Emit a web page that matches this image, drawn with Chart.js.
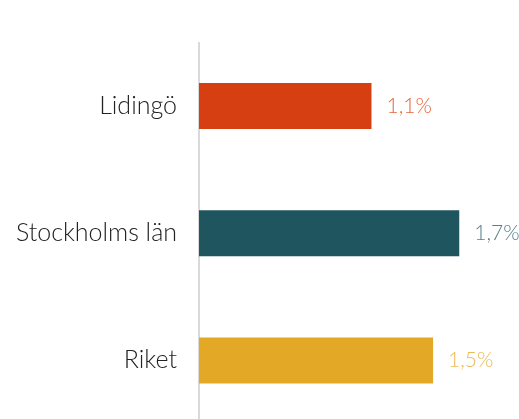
<!DOCTYPE html>
<html>
<head>
<meta charset="utf-8">
<script src="https://cdn.jsdelivr.net/npm/chart.js@4"></script>
<style>
  html, body { margin: 0; padding: 0; background: #fff; overflow: hidden; }
  canvas { display: block; }
</style>
</head>
<body>
<!-- taller than the window: the axis keeps label padding at the bottom, which falls off-screen -->
<canvas id="chart" width="519" height="461"></canvas>
<script>
// Data
const categories = ['Lidingö', 'Stockholms län', 'Riket'];
const values = [1.12, 1.69, 1.52];
const barColors = ['#D63F11', '#1F555E', '#E3A826'];
const labelColors = ['#E2673F', '#55808A', '#ECBA58'];

// draws the value next to each bar
const valueLabels = {
  id: 'valueLabels',
  afterDatasetsDraw(chart) {
    const ctx = chart.ctx;
    const meta = chart.getDatasetMeta(0);
    ctx.save();
    ctx.font = '300 21px Lato';
    ctx.textBaseline = 'middle';
    ctx.textAlign = 'left';
    meta.data.forEach(function(bar, i) {
      ctx.fillStyle = labelColors[i];
      const txt = values[i].toFixed(1).replace('.', ',') + '%';
      ctx.fillText(txt, bar.x + 15, bar.y);
    });
    ctx.restore();
  }
};

new Chart(document.getElementById('chart'), {
  type: 'bar',
  data: {
    labels: categories,
    datasets: [{
      data: values,
      backgroundColor: barColors,
      barPercentage: 0.362,
      categoryPercentage: 1
    }]
  },
  options: {
    indexAxis: 'y',
    responsive: false,
    animation: false,
    layout: { padding: { top: 42.5, right: 12, bottom: 0, left: 0 } },
    plugins: {
      legend: { display: false },
      tooltip: { enabled: false }
    },
    scales: {
      x: {
        display: false,
        min: 0,
        max: 2
      },
      y: {
        afterFit: function(scale) { scale.width = 199; },
        grid: { display: false, drawTicks: false },
        border: { display: true, color: '#D9D9D9', width: 2 },
        ticks: {
          padding: 22,
          color: '#222222',
          font: { family: 'Lato', size: 25, weight: '300' }
        }
      }
    }
  },
  plugins: [valueLabels]
});
</script>
</body>
</html>
